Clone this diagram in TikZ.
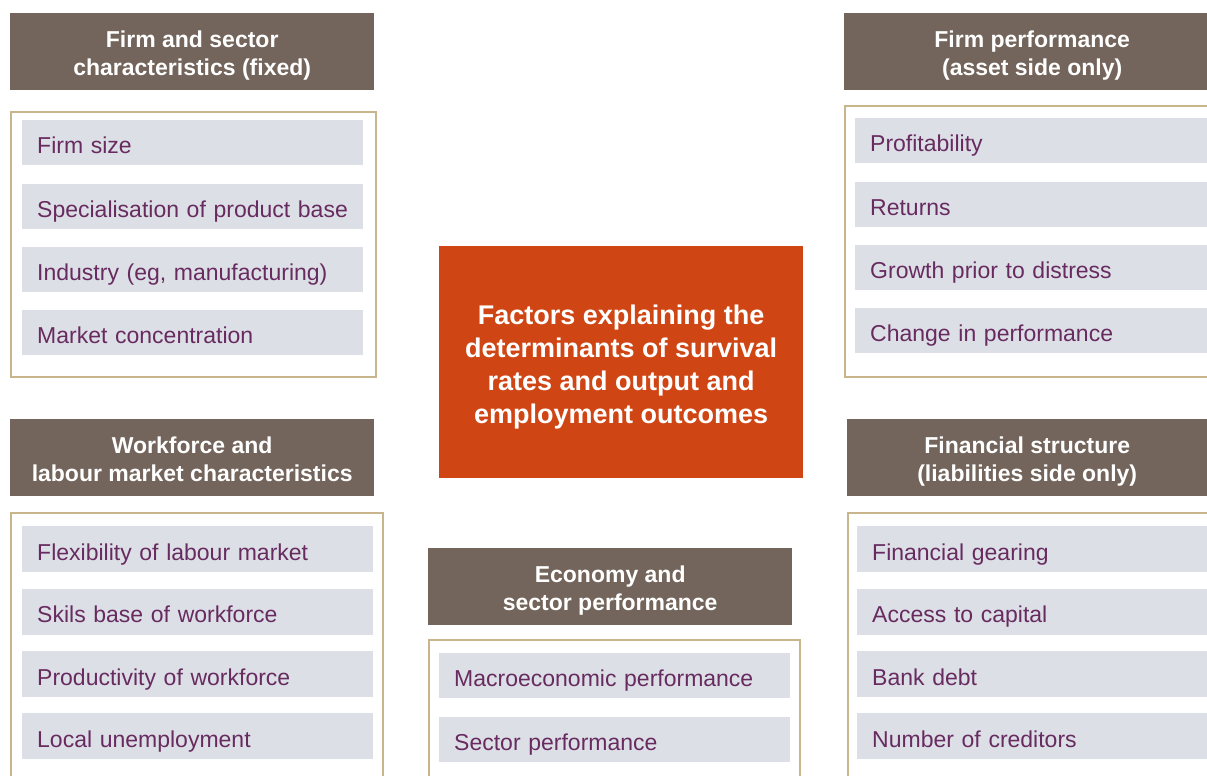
\documentclass[tikz,border=0pt]{standalone}
\usepackage{fontspec}
\setmainfont{Liberation Sans}
\usetikzlibrary{positioning}

\definecolor{headbrown}{HTML}{73655B}
\definecolor{coreorange}{HTML}{D04514}
\definecolor{itemgrey}{HTML}{DCDFE6}
\definecolor{plum}{HTML}{682B60}
\definecolor{paneltan}{HTML}{C9B58C}

\begin{document}
\begin{tikzpicture}[
  x=1pt, y=-1pt,
  head/.style={fill=headbrown, text=white, font=\fontsize{23}{27.5}\selectfont\bfseries, minimum height=77pt, inner sep=0pt, text height=47pt, text depth=0pt, align=center, anchor=north west},
  panel/.style={draw=paneltan, line width=1.5pt, inner sep=0pt, anchor=north west},
  item/.style={fill=itemgrey, text=plum, font=\fontsize{23}{27}\selectfont, minimum height=45pt, inner xsep=15pt, inner ysep=0pt, text height=22pt, text depth=0pt, align=left, text width=#1},
  item/.default=311pt,
  core/.style={fill=coreorange, text=white, font=\fontsize{27}{33}\selectfont\bfseries, inner sep=0pt, text height=122pt, text depth=0pt, align=center, anchor=north west}
]
\useasboundingbox (0,0) rectangle (1207,776);
\clip (0,0) rectangle (1207,776);

% centre
\node[core, minimum width=364pt, minimum height=232pt] (core) at (439,246) {Factors explaining the\\determinants of survival\\rates and output and\\employment outcomes};

% firm and sector
\node[head, minimum width=364pt] (hfirm) at (10,13) {Firm and sector\\characteristics (fixed)};
\node[panel, minimum width=365pt, minimum height=265pt] (pfirm) at (10,111) {};
\node[item, anchor=north west] (firm1) at (22,120) {Firm size};
\node[item, below=18pt of firm1] (firm2) {Specialisation of product base};
\node[item, below=18pt of firm2] (firm3) {Industry (eg, manufacturing)};
\node[item, below=18pt of firm3] (firm4) {Market concentration};

% firm performance
\node[head, minimum width=376pt] (hperf) at (844,13) {Firm performance\\(asset side only)};
\node[panel, minimum width=380pt, minimum height=271pt] (pperf) at (844,105) {};
\node[item=330pt, anchor=north west] (perf1) at (855,118) {Profitability};
\node[item=330pt, below=18pt of perf1] (perf2) {Returns};
\node[item=330pt, below=18pt of perf2] (perf3) {Growth prior to distress};
\node[item=330pt, below=18pt of perf3] (perf4) {Change in performance};

% workforce
\node[head, minimum width=364pt] (hwork) at (10,419) {Workforce and\\labour market characteristics};
\node[panel, minimum width=372pt, minimum height=300pt] (pwork) at (10,512) {};
\node[item=321pt, minimum height=46pt, anchor=north west] (work1) at (22,526) {Flexibility of labour market};
\node[item=321pt, minimum height=46pt, below=16pt of work1] (work2) {Skils base of workforce};
\node[item=321pt, minimum height=46pt, below=16pt of work2] (work3) {Productivity of workforce};
\node[item=321pt, minimum height=46pt, below=16pt of work3] (work4) {Local unemployment};

% financial structure
\node[head, minimum width=360pt] (hfin) at (847,419) {Financial structure\\(liabilities side only)};
\node[panel, minimum width=380pt, minimum height=300pt] (pfin) at (847,512) {};
\node[item=330pt, minimum height=46pt, anchor=north west] (fin1) at (857,526) {Financial gearing};
\node[item=330pt, minimum height=46pt, below=16pt of fin1] (fin2) {Access to capital};
\node[item=330pt, minimum height=46pt, below=16pt of fin2] (fin3) {Bank debt};
\node[item=330pt, minimum height=46pt, below=16pt of fin3] (fin4) {Number of creditors};

% economy
\node[head, minimum width=364pt] (hecon) at (428,548) {Economy and\\sector performance};
\node[panel, minimum width=371pt, minimum height=200pt] (pecon) at (428,639) {};
\node[item=321pt, anchor=north west] (econ1) at (439,653) {Macroeconomic performance};
\node[item=321pt, below=18pt of econ1] (econ2) {Sector performance};
\end{tikzpicture}
\end{document}
